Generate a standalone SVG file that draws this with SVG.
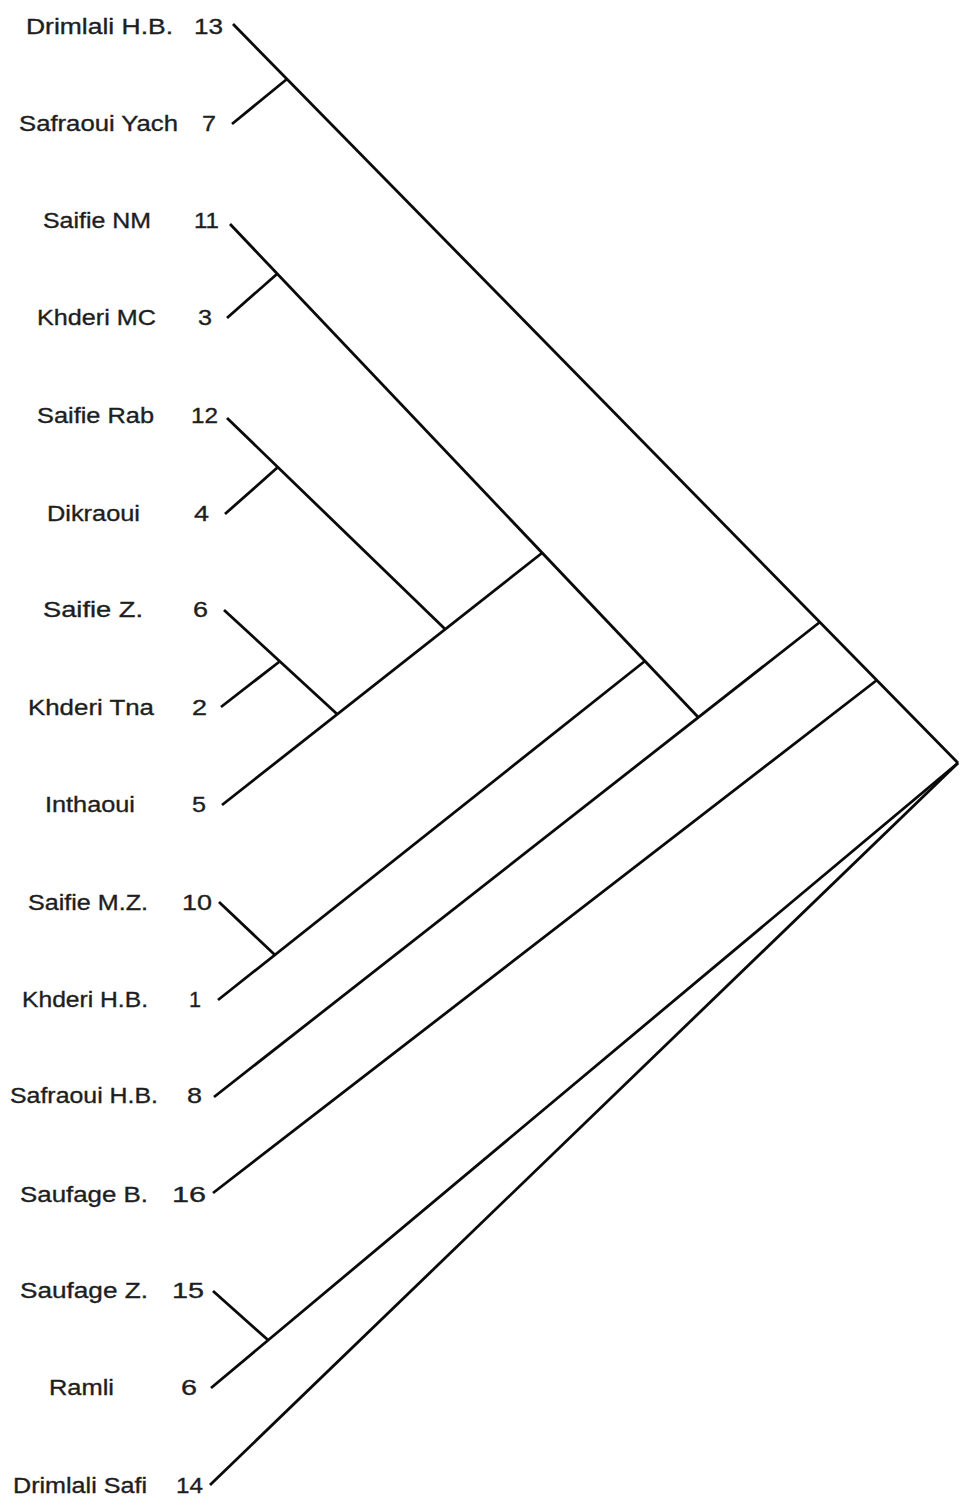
<svg xmlns="http://www.w3.org/2000/svg" width="961" height="1506" viewBox="0 0 961 1506">
<style>
.bg{fill:#ffffff}
.lbl{font-family:"Liberation Sans",Arial,sans-serif;font-size:22.5px;fill:#1e1e1e;stroke:#1e1e1e;stroke-width:0.35}
.edge{stroke:#0a0a0a;stroke-width:2.8;fill:none;stroke-linecap:butt}
</style>
<rect class="bg" x="0" y="0" width="961" height="1506"/>
<g id="connectors">
<path class="edge" d="M233,24 L958,763"/>
<path class="edge" d="M232,124 L287,79"/>
<path class="edge" d="M230,224 L698,717"/>
<path class="edge" d="M227,318 L277,274"/>
<path class="edge" d="M227,418 L445,629"/>
<path class="edge" d="M225,514 L278,467"/>
<path class="edge" d="M224,610 L337,714"/>
<path class="edge" d="M221,707 L279,662"/>
<path class="edge" d="M222,805 L542,553"/>
<path class="edge" d="M219,902 L275,955"/>
<path class="edge" d="M218,1000 L645,661"/>
<path class="edge" d="M214,1097 L820,622"/>
<path class="edge" d="M213,1193 L877,680"/>
<path class="edge" d="M213,1291 L268,1340"/>
<path class="edge" d="M211,1388 L958,763"/>
<path class="edge" d="M210,1485 L958,763"/>
</g>
<g id="leaf-13"><text class="lbl" x="26" y="34" textLength="147" lengthAdjust="spacingAndGlyphs">Drimlali  H.B.</text><text class="lbl" x="194" y="34" textLength="29" lengthAdjust="spacingAndGlyphs">13</text></g>
<g id="leaf-7"><text class="lbl" x="19" y="131" textLength="159" lengthAdjust="spacingAndGlyphs">Safraoui Yach</text><text class="lbl" x="202" y="131" textLength="14" lengthAdjust="spacingAndGlyphs">7</text></g>
<g id="leaf-11"><text class="lbl" x="43" y="228" textLength="108" lengthAdjust="spacingAndGlyphs">Saifie NM</text><text class="lbl" x="194" y="228" textLength="25" lengthAdjust="spacingAndGlyphs">11</text></g>
<g id="leaf-3"><text class="lbl" x="37" y="325" textLength="119" lengthAdjust="spacingAndGlyphs">Khderi MC</text><text class="lbl" x="198" y="325" textLength="14" lengthAdjust="spacingAndGlyphs">3</text></g>
<g id="leaf-12"><text class="lbl" x="37" y="423" textLength="117" lengthAdjust="spacingAndGlyphs">Saifie Rab</text><text class="lbl" x="191" y="423" textLength="27" lengthAdjust="spacingAndGlyphs">12</text></g>
<g id="leaf-4"><text class="lbl" x="47" y="521" textLength="93" lengthAdjust="spacingAndGlyphs">Dikraoui</text><text class="lbl" x="194" y="521" textLength="15" lengthAdjust="spacingAndGlyphs">4</text></g>
<g id="leaf-6a"><text class="lbl" x="43" y="617" textLength="100" lengthAdjust="spacingAndGlyphs">Saifie  Z.</text><text class="lbl" x="193" y="617" textLength="15" lengthAdjust="spacingAndGlyphs">6</text></g>
<g id="leaf-2"><text class="lbl" x="28" y="715" textLength="126" lengthAdjust="spacingAndGlyphs">Khderi Tna</text><text class="lbl" x="192" y="715" textLength="15" lengthAdjust="spacingAndGlyphs">2</text></g>
<g id="leaf-5"><text class="lbl" x="45" y="812" textLength="90" lengthAdjust="spacingAndGlyphs">Inthaoui</text><text class="lbl" x="192" y="812" textLength="14" lengthAdjust="spacingAndGlyphs">5</text></g>
<g id="leaf-10"><text class="lbl" x="28" y="910" textLength="120" lengthAdjust="spacingAndGlyphs">Saifie M.Z.</text><text class="lbl" x="182" y="910" textLength="30" lengthAdjust="spacingAndGlyphs">10</text></g>
<g id="leaf-1"><text class="lbl" x="22" y="1007" textLength="126" lengthAdjust="spacingAndGlyphs">Khderi H.B.</text><text class="lbl" x="189" y="1007" textLength="12" lengthAdjust="spacingAndGlyphs">1</text></g>
<g id="leaf-8"><text class="lbl" x="10" y="1103" textLength="148" lengthAdjust="spacingAndGlyphs">Safraoui H.B.</text><text class="lbl" x="187" y="1103" textLength="15" lengthAdjust="spacingAndGlyphs">8</text></g>
<g id="leaf-16"><text class="lbl" x="20" y="1202" textLength="128" lengthAdjust="spacingAndGlyphs">Saufage B.</text><text class="lbl" x="172" y="1202" textLength="34" lengthAdjust="spacingAndGlyphs">16</text></g>
<g id="leaf-15"><text class="lbl" x="20" y="1298" textLength="128" lengthAdjust="spacingAndGlyphs">Saufage Z.</text><text class="lbl" x="172" y="1298" textLength="32" lengthAdjust="spacingAndGlyphs">15</text></g>
<g id="leaf-6b"><text class="lbl" x="49" y="1395" textLength="65" lengthAdjust="spacingAndGlyphs">Ramli</text><text class="lbl" x="181" y="1395" textLength="16" lengthAdjust="spacingAndGlyphs">6</text></g>
<g id="leaf-14"><text class="lbl" x="13" y="1493" textLength="134" lengthAdjust="spacingAndGlyphs">Drimlali Safi</text><text class="lbl" x="176" y="1493" textLength="27" lengthAdjust="spacingAndGlyphs">14</text></g>
</svg>
